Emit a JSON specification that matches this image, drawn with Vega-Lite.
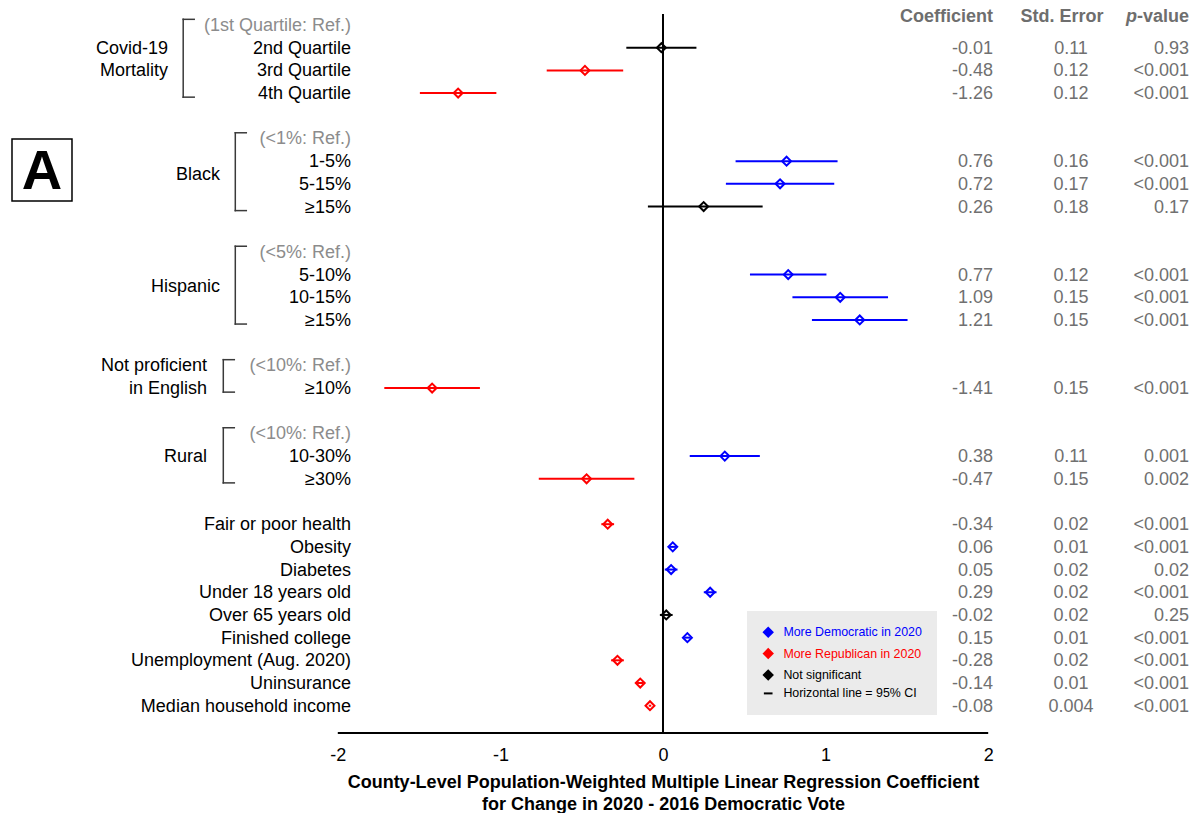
{
  "$schema": "https://vega.github.io/schema/vega-lite/v6.json",
  "width": 1194,
  "height": 733,
  "padding": 0,
  "background": "white",
  "config": {"view": {"stroke": null}, "font": "Liberation Sans", "text": {"font": "Liberation Sans"}},
  "resolve": {"legend": {"color": "independent", "shape": "independent", "stroke": "independent"}},
  "datasets": {
    "rows": [
      {"r": 0, "label": "(1st Quartile: Ref.)", "ref": true},
      {"r": 1, "label": "2nd Quartile", "ref": false, "est": -0.01, "lo": -0.2256, "hi": 0.2056, "coef": "-0.01", "se": "0.11", "p": "0.93", "sig": "Not significant"},
      {"r": 2, "label": "3rd Quartile", "ref": false, "est": -0.48, "lo": -0.7152, "hi": -0.2448, "coef": "-0.48", "se": "0.12", "p": "<0.001", "sig": "More Republican in 2020"},
      {"r": 3, "label": "4th Quartile", "ref": false, "est": -1.26, "lo": -1.4952, "hi": -1.0248, "coef": "-1.26", "se": "0.12", "p": "<0.001", "sig": "More Republican in 2020"},
      {"r": 5, "label": "(<1%: Ref.)", "ref": true},
      {"r": 6, "label": "1-5%", "ref": false, "est": 0.76, "lo": 0.4464, "hi": 1.0736, "coef": "0.76", "se": "0.16", "p": "<0.001", "sig": "More Democratic in 2020"},
      {"r": 7, "label": "5-15%", "ref": false, "est": 0.72, "lo": 0.3868, "hi": 1.0532, "coef": "0.72", "se": "0.17", "p": "<0.001", "sig": "More Democratic in 2020"},
      {"r": 8, "label": "≥15%", "ref": false, "est": 0.25, "lo": -0.0928, "hi": 0.6128, "coef": "0.26", "se": "0.18", "p": "0.17", "sig": "Not significant"},
      {"r": 10, "label": "(<5%: Ref.)", "ref": true},
      {"r": 11, "label": "5-10%", "ref": false, "est": 0.77, "lo": 0.5348, "hi": 1.0052, "coef": "0.77", "se": "0.12", "p": "<0.001", "sig": "More Democratic in 2020"},
      {"r": 12, "label": "10-15%", "ref": false, "est": 1.09, "lo": 0.796, "hi": 1.384, "coef": "1.09", "se": "0.15", "p": "<0.001", "sig": "More Democratic in 2020"},
      {"r": 13, "label": "≥15%", "ref": false, "est": 1.21, "lo": 0.916, "hi": 1.504, "coef": "1.21", "se": "0.15", "p": "<0.001", "sig": "More Democratic in 2020"},
      {"r": 15, "label": "(<10%: Ref.)", "ref": true},
      {"r": 16, "label": "≥10%", "ref": false, "est": -1.42, "lo": -1.714, "hi": -1.126, "coef": "-1.41", "se": "0.15", "p": "<0.001", "sig": "More Republican in 2020"},
      {"r": 18, "label": "(<10%: Ref.)", "ref": true},
      {"r": 19, "label": "10-30%", "ref": false, "est": 0.38, "lo": 0.1644, "hi": 0.5956, "coef": "0.38", "se": "0.11", "p": "0.001", "sig": "More Democratic in 2020"},
      {"r": 20, "label": "≥30%", "ref": false, "est": -0.47, "lo": -0.764, "hi": -0.176, "coef": "-0.47", "se": "0.15", "p": "0.002", "sig": "More Republican in 2020"},
      {"r": 22, "label": "Fair or poor health", "ref": false, "est": -0.34, "lo": -0.3792, "hi": -0.3008, "coef": "-0.34", "se": "0.02", "p": "<0.001", "sig": "More Republican in 2020"},
      {"r": 23, "label": "Obesity", "ref": false, "est": 0.06, "lo": 0.0404, "hi": 0.0796, "coef": "0.06", "se": "0.01", "p": "<0.001", "sig": "More Democratic in 2020"},
      {"r": 24, "label": "Diabetes", "ref": false, "est": 0.05, "lo": 0.0108, "hi": 0.0892, "coef": "0.05", "se": "0.02", "p": "0.02", "sig": "More Democratic in 2020"},
      {"r": 25, "label": "Under 18 years old", "ref": false, "est": 0.29, "lo": 0.2508, "hi": 0.3292, "coef": "0.29", "se": "0.02", "p": "<0.001", "sig": "More Democratic in 2020"},
      {"r": 26, "label": "Over 65 years old", "ref": false, "est": 0.02, "lo": -0.0192, "hi": 0.0592, "coef": "-0.02", "se": "0.02", "p": "0.25", "sig": "Not significant"},
      {"r": 27, "label": "Finished college", "ref": false, "est": 0.15, "lo": 0.1304, "hi": 0.1696, "coef": "0.15", "se": "0.01", "p": "<0.001", "sig": "More Democratic in 2020"},
      {"r": 28, "label": "Unemployment (Aug. 2020)", "ref": false, "est": -0.28, "lo": -0.3192, "hi": -0.2408, "coef": "-0.28", "se": "0.02", "p": "<0.001", "sig": "More Republican in 2020"},
      {"r": 29, "label": "Uninsurance", "ref": false, "est": -0.14, "lo": -0.1596, "hi": -0.1204, "coef": "-0.14", "se": "0.01", "p": "<0.001", "sig": "More Republican in 2020"},
      {"r": 30, "label": "Median household income", "ref": false, "est": -0.08, "lo": -0.0878, "hi": -0.0722, "coef": "-0.08", "se": "0.004", "p": "<0.001", "sig": "More Republican in 2020"}
    ],
    "groups": [
      {"g": "Covid-19 Mortality", "lines": ["Covid-19", "Mortality"], "mid": 1, "top": -0.25, "bottom": 3.18, "lvl": 1},
      {"g": "Black", "lines": ["Black"], "mid": 6.55, "top": 4.75, "bottom": 8.18, "lvl": 2},
      {"g": "Hispanic", "lines": ["Hispanic"], "mid": 11.5, "top": 9.75, "bottom": 13.18, "lvl": 2},
      {"g": "Not proficient in English", "lines": ["Not proficient", "in English"], "mid": 15, "top": 14.75, "bottom": 16.18, "lvl": 3},
      {"g": "Rural", "lines": ["Rural"], "mid": 19, "top": 17.75, "bottom": 20.18, "lvl": 3}
    ],
    "headers": [
      {"h": "Coefficient"},
      {"h": "Std. Error"},
      {"h": "p"},
      {"h": "-value"}
    ],
    "one": [{"panel": "A"}]
  },
  "layer": [
    {
      "data": {"name": "one"},
      "mark": {"type": "rect", "fill": "white", "stroke": "black", "strokeWidth": 1.5},
      "encoding": {
        "x": {"datum": -4.0037, "type": "quantitative",
          "scale": {"domain": [-4.0775, 3.2657], "nice": false, "zero": false},
          "axis": {
            "values": [-2, -1, 0, 1, 2], "domain": false, "ticks": false, "tickSize": 0, "grid": false,
            "labelExpr": "'' + datum.value", "labelFontSize": 18, "labelColor": "black", "labelPadding": 13,
            "labelFont": "Liberation Sans",
            "title": ["County-Level Population-Weighted Multiple Linear Regression Coefficient", "for Change in 2020 - 2016 Democratic Vote"],
            "titleFontSize": 18, "titleFontWeight": "bold", "titleColor": "black", "titleX": 663,
            "titleLineHeight": 22, "titlePadding": 9, "titleFont": "Liberation Sans"
          }},
        "x2": {"datum": -3.6347},
        "y": {"datum": 5.024, "type": "quantitative",
          "scale": {"domain": [-1.1018, 31.203], "nice": false, "zero": false, "reverse": true}, "axis": null},
        "y2": {"datum": 7.757}
      }
    },
    {
      "data": {"name": "one"},
      "mark": {"type": "text", "fontSize": 56, "fontWeight": "bold", "align": "center", "baseline": "alphabetic", "color": "black"},
      "encoding": {
        "x": {"datum": -3.8192, "type": "quantitative"},
        "y": {"datum": 7.228, "type": "quantitative", "axis": null},
        "text": {"field": "panel"}
      }
    },
    {
      "data": {"name": "groups"},
      "transform": [{"filter": "datum.lvl == 1"}],
      "layer": [
        {"mark": {"type": "rule", "stroke": "#3a3a3a", "strokeWidth": 1.5, "strokeCap": "square"},
          "encoding": {"x": {"datum": -2.9508, "type": "quantitative"}, "y": {"field": "top", "type": "quantitative", "axis": null}, "y2": {"field": "bottom"}}},
        {"transform": [{"fold": ["top", "bottom"], "as": ["end", "yv"]}],
          "mark": {"type": "rule", "stroke": "#3a3a3a", "strokeWidth": 1.5, "strokeCap": "square"},
          "encoding": {"x": {"datum": -2.9508, "type": "quantitative"}, "x2": {"datum": -2.8831}, "y": {"field": "yv", "type": "quantitative", "axis": null}}},
        {"mark": {"type": "text", "align": "right", "baseline": "middle", "fontSize": 18, "lineHeight": 22.7, "color": "black", "dy": 1},
          "encoding": {"x": {"datum": -3.0443, "type": "quantitative"}, "y": {"field": "mid", "type": "quantitative", "axis": null}, "text": {"field": "lines"}}}
      ]
    },
    {
      "data": {"name": "groups"},
      "transform": [{"filter": "datum.lvl == 2"}],
      "layer": [
        {"mark": {"type": "rule", "stroke": "#3a3a3a", "strokeWidth": 1.5, "strokeCap": "square"},
          "encoding": {"x": {"datum": -2.6304, "type": "quantitative"}, "y": {"field": "top", "type": "quantitative", "axis": null}, "y2": {"field": "bottom"}}},
        {"transform": [{"fold": ["top", "bottom"], "as": ["end", "yv"]}],
          "mark": {"type": "rule", "stroke": "#3a3a3a", "strokeWidth": 1.5, "strokeCap": "square"},
          "encoding": {"x": {"datum": -2.6304, "type": "quantitative"}, "x2": {"datum": -2.5627}, "y": {"field": "yv", "type": "quantitative", "axis": null}}},
        {"mark": {"type": "text", "align": "right", "baseline": "middle", "fontSize": 18, "lineHeight": 22.7, "color": "black", "dy": 1},
          "encoding": {"x": {"datum": -2.7245, "type": "quantitative"}, "y": {"field": "mid", "type": "quantitative", "axis": null}, "text": {"field": "lines"}}}
      ]
    },
    {
      "data": {"name": "groups"},
      "transform": [{"filter": "datum.lvl == 3"}],
      "layer": [
        {"mark": {"type": "rule", "stroke": "#3a3a3a", "strokeWidth": 1.5, "strokeCap": "square"},
          "encoding": {"x": {"datum": -2.7042, "type": "quantitative"}, "y": {"field": "top", "type": "quantitative", "axis": null}, "y2": {"field": "bottom"}}},
        {"transform": [{"fold": ["top", "bottom"], "as": ["end", "yv"]}],
          "mark": {"type": "rule", "stroke": "#3a3a3a", "strokeWidth": 1.5, "strokeCap": "square"},
          "encoding": {"x": {"datum": -2.7042, "type": "quantitative"}, "x2": {"datum": -2.6365}, "y": {"field": "yv", "type": "quantitative", "axis": null}}},
        {"mark": {"type": "text", "align": "right", "baseline": "middle", "fontSize": 18, "lineHeight": 22.7, "color": "black", "dy": 1},
          "encoding": {"x": {"datum": -2.8045, "type": "quantitative"}, "y": {"field": "mid", "type": "quantitative", "axis": null}, "text": {"field": "lines"}}}
      ]
    },
    {
      "data": {"name": "one"},
      "mark": {"type": "rule", "stroke": "black", "strokeWidth": 2},
      "encoding": {
        "x": {"datum": 0, "type": "quantitative"},
        "y": {"datum": -0.485, "type": "quantitative", "axis": null},
        "y2": {"datum": 31.203}
      }
    },
    {
      "data": {"name": "one"},
      "mark": {"type": "rule", "stroke": "black", "strokeWidth": 2},
      "encoding": {
        "x": {"datum": -2, "type": "quantitative"},
        "x2": {"datum": 2},
        "y": {"datum": 31.203, "type": "quantitative", "axis": null}
      }
    },
    {
      "data": {"name": "rows"},
      "transform": [{"filter": "!datum.ref"}],
      "mark": {"type": "rule", "strokeWidth": 2},
      "encoding": {
        "x": {"field": "lo", "type": "quantitative"},
        "x2": {"field": "hi"},
        "y": {"field": "r", "type": "quantitative", "axis": null},
        "color": {"field": "sig", "type": "nominal",
          "scale": {"domain": ["More Democratic in 2020", "More Republican in 2020", "Not significant", "Horizontal line = 95% CI"], "range": ["#0000ff", "#ff0000", "#000000", "#000000"]},
          "legend": null}
      }
    },
    {
      "data": {"name": "rows"},
      "transform": [{"filter": "!datum.ref"}],
      "mark": {"type": "point", "filled": false, "size": 80, "strokeWidth": 2, "opacity": 1},
      "encoding": {
        "x": {"field": "est", "type": "quantitative"},
        "y": {"field": "r", "type": "quantitative", "axis": null},
        "color": {"field": "sig", "type": "nominal", "legend": null},
        "shape": {"field": "sig", "type": "nominal",
          "scale": {"domain": ["More Democratic in 2020", "More Republican in 2020", "Not significant", "Horizontal line = 95% CI"], "range": ["diamond", "diamond", "diamond", "stroke"]},
          "legend": null}
      }
    },
    {
      "data": {"name": "rows"},
      "transform": [{"filter": "!datum.ref"}],
      "mark": {"type": "point", "filled": true, "size": 0, "strokeWidth": 2, "opacity": 1},
      "encoding": {
        "x": {"field": "est", "type": "quantitative"},
        "y": {"field": "r", "type": "quantitative", "axis": null},
        "color": {"field": "sig", "type": "nominal",
          "legend": {
            "orient": "none", "legendX": 747, "legendY": 611, "title": null,
            "fillColor": "#ebebeb", "padding": 15, "rowPadding": 3.4,
            "labelFontSize": 12.4, "labelFont": "Liberation Sans", "labelOffset": 9,
            "symbolSize": 75, "symbolStrokeWidth": 2, "symbolOpacity": 1,
            "labelColor": {"expr": "datum.value === 'More Democratic in 2020' ? '#0000ff' : datum.value === 'More Republican in 2020' ? '#ff0000' : '#000000'"}
          }},
        "stroke": {"field": "sig", "type": "nominal",
          "scale": {"domain": ["More Democratic in 2020", "More Republican in 2020", "Not significant", "Horizontal line = 95% CI"], "range": ["#0000ff", "#ff0000", "#000000", "#000000"]},
          "legend": {
            "orient": "none", "legendX": 747, "legendY": 611, "title": null,
            "fillColor": "#ebebeb", "padding": 15, "rowPadding": 3.4,
            "labelFontSize": 12.4, "labelFont": "Liberation Sans", "labelOffset": 9,
            "symbolSize": 75, "symbolStrokeWidth": 2, "symbolOpacity": 1,
            "labelColor": {"expr": "datum.value === 'More Democratic in 2020' ? '#0000ff' : datum.value === 'More Republican in 2020' ? '#ff0000' : '#000000'"}
          }},
        "shape": {"field": "sig", "type": "nominal",
          "legend": {
            "orient": "none", "legendX": 747, "legendY": 611, "title": null,
            "fillColor": "#ebebeb", "padding": 15, "rowPadding": 3.4,
            "labelFontSize": 12.4, "labelFont": "Liberation Sans", "labelOffset": 9,
            "symbolSize": 75, "symbolStrokeWidth": 2, "symbolOpacity": 1,
            "labelColor": {"expr": "datum.value === 'More Democratic in 2020' ? '#0000ff' : datum.value === 'More Republican in 2020' ? '#ff0000' : '#000000'"}
          }}
      }
    },
    {
      "data": {"name": "rows"},
      "mark": {"type": "text", "align": "right", "baseline": "middle", "fontSize": 18, "dy": 1},
      "encoding": {
        "x": {"datum": -1.9188, "type": "quantitative"},
        "y": {"field": "r", "type": "quantitative", "axis": null},
        "text": {"field": "label"},
        "color": {"condition": {"test": "datum.ref", "value": "#8c8c8c"}, "value": "#000000"}
      }
    },
    {
      "data": {"name": "rows"},
      "transform": [{"filter": "!datum.ref"}],
      "mark": {"type": "text", "align": "right", "baseline": "middle", "fontSize": 18, "dy": 1, "color": "#707070"},
      "encoding": {
        "x": {"datum": 2.0295, "type": "quantitative"},
        "y": {"field": "r", "type": "quantitative", "axis": null},
        "text": {"field": "coef"}
      }
    },
    {
      "data": {"name": "rows"},
      "transform": [{"filter": "!datum.ref"}],
      "mark": {"type": "text", "align": "center", "baseline": "middle", "fontSize": 18, "dy": 1, "color": "#707070"},
      "encoding": {
        "x": {"datum": 2.5092, "type": "quantitative"},
        "y": {"field": "r", "type": "quantitative", "axis": null},
        "text": {"field": "se"}
      }
    },
    {
      "data": {"name": "rows"},
      "transform": [{"filter": "!datum.ref"}],
      "mark": {"type": "text", "align": "right", "baseline": "middle", "fontSize": 18, "dy": 1, "color": "#707070"},
      "encoding": {
        "x": {"datum": 3.2349, "type": "quantitative"},
        "y": {"field": "r", "type": "quantitative", "axis": null},
        "text": {"field": "p"}
      }
    },
    {
      "data": {"name": "headers"},
      "transform": [{"filter": "datum.h == 'Coefficient'"}],
      "mark": {"type": "text", "align": "right", "baseline": "middle", "fontSize": 18, "fontWeight": "bold", "color": "#6e6e6e"},
      "encoding": {
        "x": {"datum": 2.0295, "type": "quantitative"},
        "y": {"datum": -0.3526, "type": "quantitative", "axis": null},
        "text": {"field": "h"}
      }
    },
    {
      "data": {"name": "headers"},
      "transform": [{"filter": "datum.h == 'Std. Error'"}],
      "mark": {"type": "text", "align": "center", "baseline": "middle", "fontSize": 18, "fontWeight": "bold", "color": "#6e6e6e"},
      "encoding": {
        "x": {"datum": 2.4539, "type": "quantitative"},
        "y": {"datum": -0.3526, "type": "quantitative", "axis": null},
        "text": {"field": "h"}
      }
    },
    {
      "data": {"name": "headers"},
      "transform": [{"filter": "datum.h == '-value'"}],
      "mark": {"type": "text", "align": "right", "baseline": "middle", "fontSize": 18, "fontWeight": "bold", "color": "#6e6e6e"},
      "encoding": {
        "x": {"datum": 3.2349, "type": "quantitative"},
        "y": {"datum": -0.3526, "type": "quantitative", "axis": null},
        "text": {"field": "h"}
      }
    },
    {
      "data": {"name": "headers"},
      "transform": [{"filter": "datum.h == 'p'"}],
      "mark": {"type": "text", "align": "right", "baseline": "middle", "fontSize": 18, "fontWeight": "bold", "fontStyle": "italic", "color": "#6e6e6e"},
      "encoding": {
        "x": {"datum": 2.9151, "type": "quantitative"},
        "y": {"datum": -0.3526, "type": "quantitative", "axis": null},
        "text": {"field": "h"}
      }
    }
  ]
}
